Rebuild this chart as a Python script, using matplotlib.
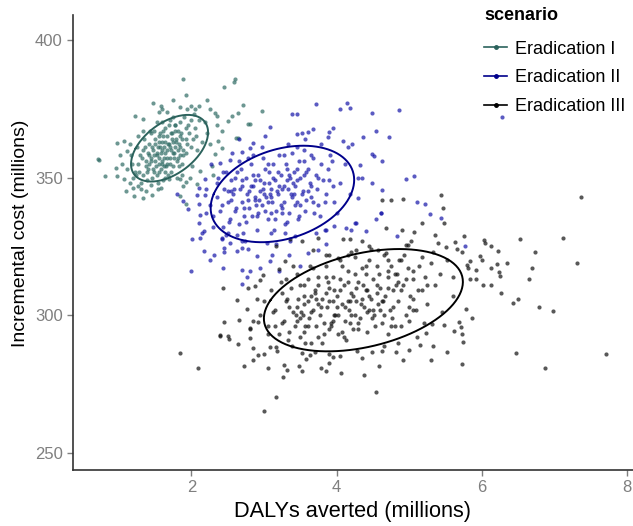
import numpy as np
import matplotlib
matplotlib.use("Agg")
import matplotlib.pyplot as plt
from matplotlib.lines import Line2D

plt.rcParams['font.family'] = ['Liberation Sans', 'DejaVu Sans']

# (DALYs averted in millions, incremental cost in millions)
erad_1 = [
    (1.22, 352), (1.27, 355), (1.32, 357), (1.34, 351), (1.37, 354), (1.40, 359), (1.42, 362), (1.44, 356),
    (1.47, 353), (1.47, 360), (1.50, 364), (1.52, 358), (1.52, 351), (1.54, 361), (1.55, 355), (1.57, 366),
    (1.58, 359), (1.60, 363), (1.62, 357), (1.62, 361), (1.64, 368), (1.65, 354), (1.66, 365), (1.67, 360),
    (1.69, 362), (1.70, 357), (1.72, 366), (1.72, 352), (1.74, 363), (1.76, 359), (1.77, 369), (1.79, 364),
    (1.80, 356), (1.82, 367), (1.84, 361), (1.85, 370), (1.87, 364), (1.89, 358), (1.92, 368), (1.94, 362),
    (1.97, 366), (2.00, 371), (2.02, 364), (1.17, 358), (1.20, 350), (1.25, 361), (1.30, 348), (1.35, 364),
    (1.39, 349), (1.49, 367), (1.54, 348), (1.59, 370), (1.68, 351), (1.75, 372), (1.87, 355), (2.05, 368),
    (2.08, 360), (1.12, 353), (1.44, 366), (1.58, 353), (1.50, 362), (1.56, 357), (1.63, 359), (1.61, 365),
    (1.71, 361), (1.78, 361), (1.48, 358), (1.41, 355), (1.33, 360), (1.28, 352),
    (1.45, 357), (1.48, 352), (1.53, 359), (1.56, 363), (1.59, 355), (1.61, 367), (1.63, 352), (1.66, 357),
    (1.68, 362), (1.71, 355), (1.73, 364), (1.76, 357), (1.78, 367), (1.81, 360), (1.83, 354), (1.86, 366),
    (1.88, 360), (1.51, 354), (1.46, 361), (1.40, 353), (1.92, 364), (1.69, 369), (1.64, 350), (1.57, 361),
    (1.74, 359), (1.60, 356), (1.79, 363), (1.55, 365), (1.85, 358), (1.38, 356),
    (1.15, 348), (1.18, 355), (1.24, 351), (1.29, 358), (1.31, 346), (1.36, 361), (1.39, 352), (1.43, 367),
    (1.46, 350), (1.50, 356), (1.53, 370), (1.56, 352), (1.59, 360), (1.61, 349), (1.64, 363), (1.67, 355),
    (1.70, 371), (1.72, 360), (1.75, 354), (1.78, 369), (1.81, 357), (1.84, 365), (1.87, 351), (1.90, 372),
    (1.93, 359), (1.96, 369), (1.99, 361), (2.03, 373), (2.07, 365), (2.11, 371), (2.15, 363), (2.19, 370),
    (1.05, 355), (1.10, 345), (1.27, 365), (1.37, 345), (1.58, 376), (1.98, 350), (2.22, 366), (1.02, 358),
    (1.42, 358), (1.62, 354), (1.73, 366), (1.83, 362), (1.54, 346), (1.34, 367), (1.94, 375), (2.25, 362),
    (1.16, 362), (1.88, 347),
    (1.88, 385.9), (2.60, 385.6), (2.58, 384.8), (2.45, 383), (1.92, 380), (1.74, 378), (1.47, 377),
    (2.21, 378), (2.71, 376.5), (1.60, 374.7), (1.84, 375.7), (1.99, 376), (2.05, 375), (2.11, 375.8),
    (2.25, 375), (2.33, 373.6), (2.35, 372.3), (1.67, 373.7), (1.22, 372.5), (1.34, 371.3), (1.55, 373.7),
    (2.56, 372.5), (2.64, 373.3), (2.50, 370.5), (2.35, 369), (2.42, 366.8), (2.78, 369.3), (2.62, 364.4),
    (2.37, 363.2), (2.33, 358.4), (2.28, 354.1), (2.12, 352.3), (2.01, 354.1), (0.97, 362.4), (1.07, 363.2),
    (1.12, 359.6), (0.72, 356.8), (0.96, 353.5), (0.81, 350.7), (0.97, 350.5), (1.07, 349.3), (1.19, 346.3),
    (1.26, 346.8), (1.44, 347.1), (1.58, 346.3), (1.69, 349.3), (1.85, 349.5), (1.46, 343.8), (1.21, 343.2),
    (1.34, 342.7), (2.81, 369.5), (2.64, 364.5), (2.42, 360.8), (2.30, 351), (2.08, 347.5), (1.80, 349.9),
    (1.92, 348.2), (2.97, 374), (1.85, 343.2), (1.92, 340.2), (0.73, 356.5),
]

erad_2 = [
    (2.25, 340), (2.30, 336), (2.35, 343), (2.40, 338), (2.43, 332), (2.45, 346), (2.50, 341), (2.53, 335),
    (2.55, 349), (2.57, 344), (2.60, 338), (2.63, 352), (2.65, 333), (2.67, 346), (2.70, 341), (2.73, 336),
    (2.75, 350), (2.77, 344), (2.80, 339), (2.82, 355), (2.85, 347), (2.87, 342), (2.90, 336), (2.92, 351),
    (2.95, 345), (2.97, 340), (2.99, 357), (3.00, 348), (3.03, 343), (3.05, 335), (3.07, 352), (3.09, 346),
    (3.11, 341), (3.13, 355), (3.15, 349), (3.17, 338), (3.19, 344), (3.21, 358), (3.23, 351), (3.25, 346),
    (3.27, 341), (3.30, 355), (3.32, 349), (3.35, 337), (3.37, 344), (3.39, 359), (3.41, 352), (3.43, 347),
    (3.45, 341), (3.48, 356), (3.50, 350), (3.53, 345), (3.55, 360), (3.57, 338), (3.60, 353), (3.63, 348),
    (3.65, 343), (3.68, 357), (3.71, 351), (3.73, 346), (3.75, 340), (3.78, 355), (3.81, 349), (3.85, 344),
    (3.88, 353), (3.91, 358), (3.95, 347), (2.37, 350), (2.47, 329), (2.71, 330), (2.90, 331), (3.10, 330),
    (3.29, 333), (3.47, 335), (3.77, 336), (3.97, 341), (2.85, 358), (2.65, 356), (3.33, 362), (2.20, 346),
    (2.80, 345), (2.95, 349), (3.20, 347), (3.00, 344), (2.55, 342), (3.40, 348), (3.10, 337), (2.70, 349),
    (3.45, 353), (3.25, 337),
    (2.55, 345), (2.62, 339), (2.70, 347), (2.78, 342), (2.85, 351), (2.92, 337), (2.98, 346), (3.05, 341),
    (3.12, 350), (3.18, 345), (3.25, 339), (3.32, 353), (3.38, 343), (3.45, 349), (3.52, 344), (3.58, 352),
    (3.65, 347), (2.75, 334), (2.88, 343), (3.02, 353), (3.15, 335), (3.28, 347), (3.42, 340), (3.55, 356),
    (3.68, 341), (2.60, 350), (2.82, 347), (3.08, 344), (3.35, 351), (3.48, 336),
    (2.30, 332), (2.35, 348), (2.42, 340), (2.48, 352), (2.52, 334), (2.58, 346), (2.63, 329), (2.68, 353),
    (2.72, 339), (2.78, 357), (2.83, 336), (2.88, 349), (2.93, 342), (2.97, 361), (3.02, 338), (3.06, 355),
    (3.10, 343), (3.14, 331), (3.19, 352), (3.23, 340), (3.28, 358), (3.31, 334), (3.36, 350), (3.41, 344),
    (3.46, 361), (3.50, 340), (3.55, 351), (3.60, 345), (3.64, 358), (3.69, 337), (3.74, 350), (3.79, 362),
    (3.84, 341), (3.89, 349), (3.94, 356), (4.00, 337), (4.05, 348), (4.12, 355), (4.18, 344), (2.20, 337),
    (2.27, 355), (2.56, 359), (2.74, 327), (3.01, 365), (3.16, 326), (3.52, 366), (3.72, 330), (4.15, 361),
    (4.30, 350), (2.15, 330), (2.45, 323), (3.35, 322), (3.95, 368), (2.66, 364), (3.85, 326), (3.07, 348),
    (2.89, 340), (3.33, 346), (3.58, 342), (2.50, 345),
    (3.72, 376.8), (4.05, 374.7), (4.18, 375.1), (3.38, 373.2), (3.46, 373.2), (4.48, 373.5), (4.86, 374.4),
    (3.08, 368.3), (3.68, 367.5), (3.61, 366.6), (3.90, 366.6), (3.88, 364.7), (3.45, 365.9), (3.56, 363.8),
    (4.09, 363.2), (4.21, 362), (4.36, 364.7), (4.54, 366.8), (4.72, 364.7), (4.48, 358.4), (4.52, 357.7),
    (4.63, 355.9), (4.32, 354.7), (4.35, 349.9), (4.48, 348.1), (4.63, 345.6), (4.29, 342.6), (4.61, 337.2),
    (4.25, 333.5), (4.13, 331.7), (4.54, 335.1), (3.84, 331.1), (2.81, 360.8), (2.69, 359.3), (2.85, 362.6),
    (2.53, 356.5), (2.40, 355.3), (2.44, 352.1), (2.19, 349.3), (2.10, 346.3), (1.80, 344.1), (1.89, 341.4),
    (1.96, 338.4), (2.08, 343.8), (2.10, 340.2), (2.12, 336.5), (2.10, 333.5), (2.17, 330.5), (2.01, 327.5),
    (2.12, 328.1), (2.42, 328.1), (2.51, 329.9), (2.69, 326.8), (1.99, 315.9), (2.17, 323.2), (2.26, 320.2),
    (2.31, 322), (2.42, 327.5), (2.45, 324.4), (2.53, 326.3), (2.44, 317.2), (2.63, 323.2), (2.69, 324.4),
    (2.78, 324.1), (2.69, 316.5), (2.81, 315.9), (2.77, 313.9), (2.69, 311.5), (2.90, 321.4), (2.95, 317.2),
    (3.11, 322), (3.08, 319.6), (3.20, 315.9), (3.04, 326.3), (3.29, 329.9), (3.42, 328.7), (3.36, 326.8),
    (3.49, 317.7), (3.61, 322.6), (3.74, 323.8), (3.86, 331.1), (3.97, 332.3), (4.20, 331.1), (4.27, 333.5),
    (4.41, 330.5), (4.61, 337.2), (4.83, 328.7), (4.96, 349.3), (5.07, 350.5), (5.11, 341.2), (5.21, 340.4),
    (5.29, 336.9), (5.44, 335.2), (5.77, 325), (6.27, 371.8), (4.14, 377), (2.19, 343.8),
]

erad_3 = [
    (2.95, 300), (3.00, 305), (3.05, 296), (3.10, 309), (3.15, 302), (3.20, 293), (3.23, 312), (3.27, 298),
    (3.30, 305), (3.33, 291), (3.37, 310), (3.40, 301), (3.43, 296), (3.45, 315), (3.47, 306), (3.50, 292),
    (3.53, 300), (3.55, 311), (3.57, 296), (3.60, 305), (3.63, 318), (3.65, 290), (3.67, 302), (3.70, 309),
    (3.72, 296), (3.75, 314), (3.77, 300), (3.80, 306), (3.82, 293), (3.85, 318), (3.87, 303), (3.90, 310),
    (3.92, 297), (3.95, 314), (3.97, 300), (4.00, 307), (4.02, 293), (4.05, 320), (4.07, 304), (4.10, 311),
    (4.12, 298), (4.15, 316), (4.17, 302), (4.20, 308), (4.22, 295), (4.25, 321), (4.27, 305), (4.30, 312),
    (4.32, 299), (4.35, 317), (4.37, 303), (4.40, 309), (4.42, 294), (4.45, 320), (4.47, 306), (4.50, 313),
    (4.52, 300), (4.55, 318), (4.57, 304), (4.60, 310), (4.62, 297), (4.65, 322), (4.67, 307), (4.70, 314),
    (4.73, 302), (4.75, 318), (4.77, 309), (4.80, 296), (4.83, 315), (4.85, 305), (4.88, 320), (4.91, 311),
    (4.95, 300), (4.98, 317), (5.01, 307), (5.05, 313), (5.09, 302), (5.13, 318), (5.17, 309), (5.21, 314),
    (5.25, 304), (5.30, 319), (5.35, 311), (3.15, 296), (3.35, 294), (3.55, 294), (3.75, 304), (3.95, 305),
    (4.15, 305), (4.35, 306), (4.05, 309), (3.85, 308), (3.65, 307), (4.25, 300), (4.45, 302), (4.65, 300),
    (4.85, 312), (4.55, 308), (3.95, 298), (3.45, 303), (3.25, 308), (4.30, 295), (4.10, 292), (3.80, 290),
    (5.05, 306), (5.20, 297), (4.70, 293), (3.60, 313), (4.40, 318), (4.20, 323), (3.51, 301), (3.49, 299),
    (3.35, 303), (3.45, 298), (3.55, 307), (3.65, 301), (3.75, 311), (3.82, 297), (3.90, 305), (3.98, 300),
    (4.05, 313), (4.12, 303), (4.18, 297), (4.26, 310), (4.33, 304), (4.40, 315), (4.48, 299), (4.55, 311),
    (4.62, 305), (4.70, 316), (4.78, 303), (4.88, 309), (4.95, 313), (5.05, 302), (3.60, 296), (3.88, 312),
    (4.22, 307), (4.50, 302), (4.75, 296), (3.72, 306), (4.08, 294), (4.42, 309),
    (3.05, 293), (3.12, 301), (3.18, 287), (3.25, 297), (3.32, 306), (3.38, 289), (3.44, 300), (3.50, 311),
    (3.56, 290), (3.62, 299), (3.68, 317), (3.74, 292), (3.79, 303), (3.85, 314), (3.90, 295), (3.96, 309),
    (4.02, 300), (4.08, 318), (4.13, 291), (4.19, 305), (4.25, 315), (4.30, 297), (4.36, 311), (4.42, 301),
    (4.47, 324), (4.53, 296), (4.58, 315), (4.64, 305), (4.70, 320), (4.76, 299), (4.82, 311), (4.88, 296),
    (4.93, 322), (4.99, 303), (5.05, 316), (5.12, 309), (5.18, 321), (5.25, 311), (5.33, 323), (5.42, 315),
    (5.52, 320), (5.60, 314), (2.85, 298), (2.90, 306), (3.00, 286), (3.28, 282), (3.58, 284), (3.95, 285),
    (4.28, 287), (4.65, 289), (5.10, 292), (5.45, 301), (5.60, 307), (3.40, 318), (3.85, 322), (4.35, 327),
    (4.90, 331), (5.35, 329), (3.30, 313), (4.15, 312), (4.60, 302), (4.00, 303), (3.70, 308), (4.45, 307),
    (4.80, 315), (3.55, 304), (5.00, 298), (4.20, 300), (3.92, 296), (4.70, 310),
    (4.63, 342), (4.75, 342), (4.68, 331.7), (3.36, 327.5), (3.52, 326.8), (3.74, 328.1), (3.17, 325),
    (3.29, 319.6), (3.20, 316.8), (2.99, 314.7), (2.95, 312.9), (2.88, 310.5), (2.78, 309.9), (2.63, 305.6),
    (2.43, 309.9), (2.77, 302.3), (2.65, 298.1), (2.92, 297.7), (2.40, 292.9), (2.51, 292.3), (2.81, 295.4),
    (3.68, 323.8), (3.90, 322), (4.02, 320.8), (4.15, 322), (4.27, 323.8), (4.45, 325), (4.57, 323.8),
    (4.68, 322.6), (4.86, 320.2), (4.98, 325.6), (4.09, 327.5), (4.18, 327.7), (4.92, 342.3), (5.43, 343.5),
    (5.47, 339), (5.18, 333.5), (5.48, 333.5), (5.07, 330.1), (5.02, 326.8), (4.95, 325.6), (5.40, 326.3),
    (5.50, 324.8), (5.63, 326.5), (5.66, 324.1), (5.75, 328.7), (5.73, 322.8), (5.80, 318.4), (5.84, 319.6),
    (5.81, 317.2), (5.92, 316.5), (5.83, 313.1), (5.92, 313.3), (5.98, 321.6), (6.00, 320.2), (6.03, 327.2),
    (6.04, 326.3), (6.13, 325.3), (6.22, 323.2), (6.12, 317.2), (6.21, 318.6), (6.23, 315.8), (6.25, 314.1),
    (6.35, 319.1), (6.02, 311.1), (6.13, 311.1), (6.53, 327.5), (6.73, 323), (6.69, 317), (6.65, 313.1),
    (7.11, 328.1), (7.31, 319), (7.36, 343), (6.26, 308.1), (6.43, 304.4), (6.50, 305.9), (6.79, 302.8),
    (6.98, 301.6), (5.78, 302.4), (5.86, 298.9), (5.68, 297.7), (5.71, 295.7), (5.73, 293), (5.74, 290.4),
    (5.61, 294.3), (5.48, 296.5), (5.31, 296.9), (5.23, 293.5), (5.32, 288.9), (5.15, 289.3), (5.00, 287.5),
    (4.91, 283.8), (5.30, 283.6), (5.52, 286.5), (5.72, 282.4), (6.47, 286.2), (6.87, 281), (7.71, 285.9),
    (1.85, 286.2), (2.09, 281), (2.45, 297.7), (2.40, 292.5), (2.52, 291.3), (2.64, 289.5), (2.81, 295),
    (2.81, 291.7), (2.85, 288.1), (2.92, 285.6), (2.85, 283.8), (2.72, 281.6), (3.05, 280.8), (3.26, 277.4),
    (3.31, 280.2), (3.16, 270.3), (3.00, 265.4), (3.48, 281.7), (3.52, 279.9), (3.78, 280.8), (3.86, 279.9),
    (3.90, 282.8), (4.06, 279.2), (4.37, 278.4), (4.54, 272.3), (4.58, 281.6), (4.35, 284.4), (4.49, 286.5),
    (4.63, 286.9), (4.82, 286.5), (4.04, 285.3), (3.90, 286), (3.70, 286.8), (3.63, 285.6), (3.52, 286.2),
    (3.08, 288.3), (3.17, 288.6), (4.84, 289.9),
]

scenarios = ['Eradication I', 'Eradication II', 'Eradication III']
point_colors = ['#2F6B64', '#1515A8', '#111111']
ellipse_colors = ['#2B625C', '#00008B', '#000000']
ellipse_level = 0.58


def ellipse_path(pts, level):
    # normal-theory ellipse like ggplot's stat_ellipse
    arr = np.array(pts, dtype=float)
    center = arr.mean(axis=0)
    cov = np.cov(arr.T)
    vals, vecs = np.linalg.eigh(cov)
    r = np.sqrt(-2 * np.log(1 - level))
    t = np.linspace(0, 2 * np.pi, 200)
    circle = np.vstack([np.cos(t), np.sin(t)])
    shape = vecs @ np.diag(np.sqrt(vals)) @ circle * r
    return center[0] + shape[0], center[1] + shape[1]


fig = plt.figure(figsize=(6.33, 5.26), dpi=100)
ax = fig.add_axes([73 / 633, 56 / 526, 560 / 633, 455 / 526])

for data, pc in zip([erad_1, erad_2, erad_3], point_colors):
    xs, ys = zip(*data)
    ax.scatter(xs, ys, s=9, color=pc, alpha=0.7, linewidths=0, zorder=2)

for data, ec in zip([erad_1, erad_2, erad_3], ellipse_colors):
    ex, ey = ellipse_path(data, ellipse_level)
    ax.plot(ex, ey, color=ec, lw=1.4, zorder=3)

ax.set_xlim(0.37, 8.08)
ax.set_ylim(243.8, 409)
ax.set_xticks([2, 4, 6, 8])
ax.set_yticks([250, 300, 350, 400])
ax.tick_params(colors='#7F7F7F', labelsize=12, length=4, width=1)
for s in ['top', 'right']:
    ax.spines[s].set_visible(False)
for s in ['left', 'bottom']:
    ax.spines[s].set_color('#333333')
    ax.spines[s].set_linewidth(1.2)

ax.set_xlabel('DALYs averted (millions)', fontsize=15.7, labelpad=4)
ax.set_ylabel('Incremental cost (millions)', fontsize=14)
ax.yaxis.set_label_coords(-0.079, 0.52)

handles = [Line2D([0], [0], color=ec, lw=1.2, marker='o', markersize=2.5) for ec in ellipse_colors]
leg = fig.legend(handles, scenarios, title='scenario', loc='upper left',
                 bbox_to_anchor=(479 / 633, 0.997), frameon=False, fontsize=13,
                 title_fontproperties={'weight': 'bold', 'size': 13},
                 handlelength=1.25, handletextpad=0.45, labelspacing=0.65,
                 borderaxespad=0, borderpad=0.3)
leg._legend_box.align = 'left'
leg._legend_box.sep = 12

fig.savefig('out.png', dpi=100)
